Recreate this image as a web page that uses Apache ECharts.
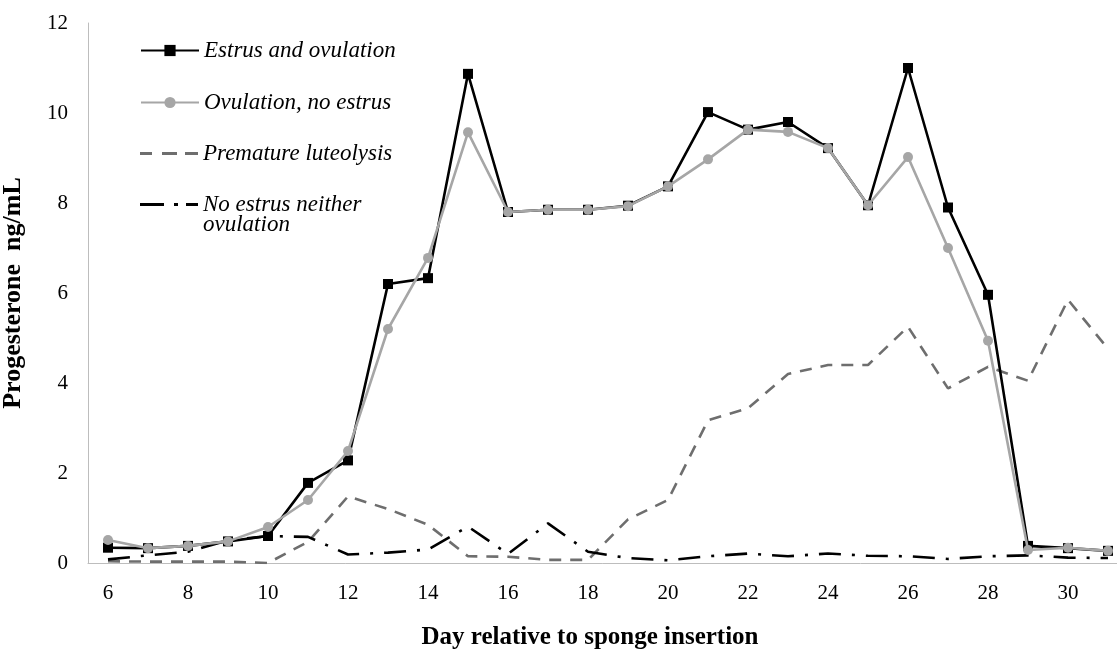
<!DOCTYPE html>
<html>
<head>
<meta charset="utf-8">
<script src="https://cdn.jsdelivr.net/npm/echarts@6/dist/echarts.min.js"></script>
<style>
html,body{margin:0;padding:0;background:#fff;}
#chart{width:1117px;height:651px;}
</style>
</head>
<body>
<div id="chart"></div>
<script>
var days = [6,7,8,9,10,11,12,13,14,15,16,17,18,19,20,21,22,23,24,25,26,27,28,29,30,31];
var seriesNames = ['Estrus and ovulation', 'Ovulation, no estrus', 'Premature luteolysis', 'No estrus neither\novulation'];
var estrusOvulation = [0.34,0.33,0.38,0.48,0.6,1.78,2.28,6.2,6.33,10.87,7.8,7.85,7.85,7.94,8.37,10.02,9.63,9.8,9.22,7.95,11.0,7.9,5.96,0.38,0.33,0.27];
var ovulationNoEstrus = [0.51,0.33,0.38,0.48,0.8,1.4,2.49,5.2,6.78,9.57,7.8,7.85,7.85,7.93,8.37,8.97,9.63,9.58,9.22,7.95,9.02,7.0,4.94,0.29,0.34,0.27];
var prematureLuteolysis = [0.04,0.03,0.03,0.03,0.0,0.47,1.48,1.2,0.85,0.15,0.14,0.07,0.07,0.97,1.4,3.17,3.44,4.2,4.4,4.4,5.25,3.88,4.36,4.05,5.85,4.76];
var noEstrusNoOvulation = [0.08,0.17,0.25,0.5,0.6,0.58,0.19,0.23,0.3,0.81,0.2,0.88,0.25,0.11,0.06,0.15,0.21,0.15,0.21,0.16,0.15,0.09,0.15,0.17,0.12,0.11];
var yTicks = {min: 0, max: 12, interval: 2};

var serif = '"Liberation Serif", "Times New Roman", serif';
var axisGray = '#BDBDBD';

// legend icon shapes (dash patterns of the two unmarked series)
var dashIcon = 'path://M0 0h12v3H0Z M22 0h15v3H22Z M45 0h13v3H45Z';
var dashDotIcon = 'path://M0 0h24v3H0Z M34 0h4v3h-4Z M46 0h12v3H46Z M58 23h0';

function legendFor(item, top, itemHeight, lineHeight) {
  return {
    data: [item], left: 140, top: top, orient: 'vertical', padding: 0,
    itemWidth: 58, itemHeight: itemHeight, itemGap: 0, selectedMode: false,
    symbolKeepAspect: false,
    textStyle: {fontFamily: serif, fontStyle: 'italic', fontSize: 23, color: '#000', lineHeight: lineHeight}
  };
}

var chart = echarts.init(document.getElementById('chart'), null, {renderer: 'canvas'});
chart.setOption({
  animation: false,
  backgroundColor: '#fff',
  grid: {left: 88, top: 23, width: 1040, height: 540, containLabel: false, outerBoundsMode: 'none'},
  legend: [
    legendFor(seriesNames[0], 39, 14, 22),
    legendFor(seriesNames[1], 91, 14, 22),
    legendFor({name: seriesNames[2], icon: dashIcon}, 142, 3, 22),
    legendFor({name: seriesNames[3], icon: dashDotIcon}, 193, 23, 20)
  ],
  xAxis: {
    type: 'category', data: days, boundaryGap: true,
    axisLine: {show: true, lineStyle: {color: axisGray, width: 1}},
    axisTick: {show: false},
    axisLabel: {interval: 1, margin: 20, fontFamily: serif, fontSize: 21, color: '#000'},
    splitLine: {show: false}
  },
  yAxis: {
    type: 'value', min: yTicks.min, max: yTicks.max, interval: yTicks.interval,
    name: 'Progesterone  ng/mL', nameLocation: 'middle', nameGap: 62, nameRotate: 90,
    nameTextStyle: {fontFamily: serif, fontWeight: 'bold', fontSize: 26, color: '#000'},
    axisLine: {show: true, lineStyle: {color: axisGray, width: 1}},
    axisTick: {show: false},
    axisLabel: {margin: 20, fontFamily: serif, fontSize: 21, color: '#000'},
    splitLine: {show: false}
  },
  graphic: [{
    type: 'text', x: 590, y: 638,
    style: {text: 'Day relative to sponge insertion', fill: '#000', font: 'bold 25px ' + serif, textAlign: 'center', textVerticalAlign: 'middle'}
  }],
  series: [
    {
      name: seriesNames[2], type: 'line', data: prematureLuteolysis, symbol: 'none', z: 2,
      lineStyle: {color: '#6E6E6E', width: 2.6, type: [12, 9]},
      itemStyle: {color: '#6E6E6E'}
    },
    {
      name: seriesNames[3], type: 'line', data: noEstrusNoOvulation, symbol: 'none', z: 2,
      lineStyle: {color: '#000', width: 2.6, type: [22, 11, 3, 11]},
      itemStyle: {color: '#000'}
    },
    {
      name: seriesNames[0], type: 'line', data: estrusOvulation, symbol: 'rect', symbolSize: 10, z: 3,
      lineStyle: {color: '#000', width: 2.6}, itemStyle: {color: '#000'}
    },
    {
      name: seriesNames[1], type: 'line', data: ovulationNoEstrus, symbol: 'circle', symbolSize: 10, z: 4,
      lineStyle: {color: '#A6A6A6', width: 2.6}, itemStyle: {color: '#A6A6A6'}
    }
  ]
});
</script>
</body>
</html>
